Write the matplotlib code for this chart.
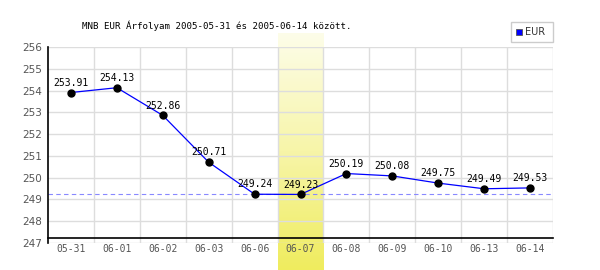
"""MNB EUR exchange rate chart, 2005-05-31 .. 2005-06-14."""

import matplotlib
matplotlib.use("Agg")
import matplotlib.pyplot as plt
import numpy as np
from matplotlib.colors import LinearSegmentedColormap
from matplotlib.patches import Rectangle

# Data
dates = ["05-31", "06-01", "06-02", "06-03", "06-06", "06-07",
         "06-08", "06-09", "06-10", "06-13", "06-14"]
eur = [253.91, 254.13, 252.86, 250.71, 249.24, 249.23,
       250.19, 250.08, 249.75, 249.49, 249.53]
highlight = "06-07"

W, H = 600, 270
fig = plt.figure(figsize=(W / 100, H / 100), dpi=100)
fig.patch.set_facecolor("white")

# axes box in pixels
x0, x1, y0, y1 = 48, 553, 243, 47
ax_rect = [x0 / W, 1 - y0 / H, (x1 - x0) / W, (y0 - y1) / H]

# yellow gradient band behind the highlighted day
n = len(dates)
col_w = (x1 - x0) / n
hi = dates.index(highlight)
bx = x0 + hi * col_w
band_top = 33
bg = fig.add_axes([bx / W, 0, col_w / W, 1 - band_top / H], zorder=0)
cmap = LinearSegmentedColormap.from_list("yel", ["#fdfde9", "#f7f5a8", "#efec5e"])
bg.imshow(np.linspace(0, 1, 256).reshape(-1, 1), aspect="auto", cmap=cmap,
          extent=[0, 1, 0, 1], origin="upper")
bg.set_axis_off()

ax = fig.add_axes(ax_rect, zorder=1)
ax.set_facecolor("none")
x = np.arange(n)
ax.set_xlim(-0.5, n - 0.5)
ax.set_ylim(247, 256)

# grid
for v in range(248, 257):
    ax.axhline(v, color="#dddddd", lw=1, zorder=1)
for i in range(1, n + 1):
    ax.axvline(i - 0.5, color="#dddddd", lw=1, zorder=1)
ax.axhline(247, color="#dddddd", lw=1, zorder=1)

# minimum line
ax.axhline(min(eur), color="#8888ff", lw=0.8, ls=(0, (4, 3)), zorder=2)

ax.plot(x, eur, color="#0000ff", lw=0.9, zorder=3)
ax.plot(x, eur, "o", color="black", ms=5, zorder=4)
for xi, v in zip(x, eur):
    ax.annotate(f"{v:.2f}", (xi, v), xytext=(0, 3.5), textcoords="offset points",
                ha="center", va="bottom", fontsize=7,
                family="DejaVu Sans Mono", zorder=5)

for s in ["top", "right"]:
    ax.spines[s].set_visible(False)
ax.spines["left"].set_color("black")
ax.spines["bottom"].set_position(("axes", 0.025))
ax.spines["bottom"].set_color("black")
ax.spines["left"].set_linewidth(1.2)
ax.spines["bottom"].set_linewidth(1.2)

ax.set_xticks(x)
ax.set_xticklabels(dates)
ax.set_yticks(range(247, 257))
ax.tick_params(length=0, labelsize=7.5, colors="#555555", pad=4)
for lab in ax.get_xticklabels():
    lab.set_family("DejaVu Sans Mono")
    lab.set_fontsize(7)

fig.text(82 / W, 1 - 26 / H, "MNB EUR Árfolyam 2005-05-31 és 2005-06-14 között.",
         fontsize=6.6, family="DejaVu Sans Mono", va="center", ha="left")

# legend box
fig.patches.append(Rectangle((511 / W, 1 - 42 / H), 42 / W, 20 / H,
                             transform=fig.transFigure, fill=False,
                             ec="#cccccc", lw=1))
fig.patches.append(Rectangle((516 / W, 1 - 35 / H), 6 / W, 6 / H,
                             transform=fig.transFigure, fc="#0000ff",
                             ec="#555555", lw=0.6))
fig.text(525 / W, 1 - 32 / H, "EUR", fontsize=7, color="#333333",
         va="center", ha="left")

fig.savefig("out.png", dpi=100)
